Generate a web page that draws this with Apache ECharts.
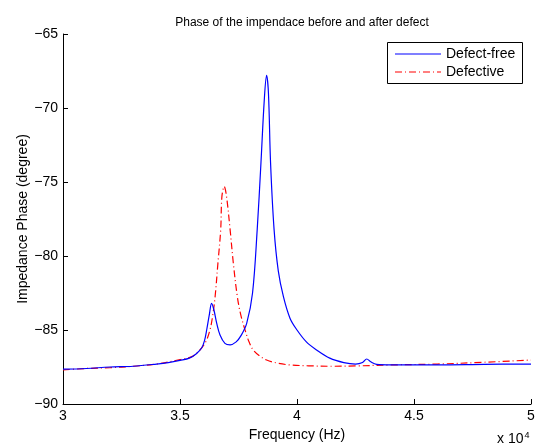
<!DOCTYPE html>
<html><head><meta charset="utf-8">
<script src="https://cdn.jsdelivr.net/npm/echarts@6/dist/echarts.min.js"></script>
<style>html,body{margin:0;padding:0;background:#fff}#c{width:538px;height:447px}</style>
</head><body><div id="c"></div>
<script>
const titleText = 'Phase of the impendace before and after defect';
const seriesNames = ['Defect-free', 'Defective'];
const xTicks = [30000, 35000, 40000, 45000, 50000];
const yTicks = [-90, -85, -80, -75, -70, -65];

// Defect-free: frequency (x10^4 Hz) and phase (degree)
const freqFree = [3.0, 3.1, 3.2, 3.3, 3.4, 3.45, 3.5, 3.54, 3.57, 3.593, 3.605, 3.614, 3.625, 3.635, 3.645, 3.657, 3.671, 3.692, 3.714, 3.74, 3.76, 3.785, 3.81, 3.83, 3.846, 3.86, 3.870, 3.878, 3.887, 3.902, 3.92, 3.942, 3.97, 4.0, 4.04, 4.084, 4.14, 4.2, 4.25, 4.28, 4.298, 4.315, 4.34, 4.4, 4.6, 4.8, 5.0];
const phaseFree = [-87.65, -87.6, -87.5, -87.45, -87.3, -87.2, -87.05, -86.9, -86.6, -86.2, -85.7, -85.0, -84.0, -83.2, -83.65, -84.55, -85.34, -85.9, -86.0, -85.8, -85.4, -84.55, -82.5, -78.2, -73.7, -69.5, -67.8, -69.0, -73.7, -78.2, -81.0, -82.75, -84.2, -85.0, -85.8, -86.35, -86.9, -87.2, -87.3, -87.2, -86.96, -87.15, -87.32, -87.35, -87.35, -87.32, -87.3];

// Defective
const freqDef = [3.0, 3.1, 3.2, 3.3, 3.4, 3.5, 3.55, 3.585, 3.61, 3.628, 3.64, 3.65, 3.662, 3.674, 3.679, 3.689, 3.699, 3.714, 3.728, 3.745, 3.76, 3.778, 3.795, 3.813, 3.84, 3.870, 3.92, 3.970, 4.05, 4.15, 4.25, 4.4, 4.6, 4.8, 5.0];
const phaseDef = [-87.7, -87.6, -87.55, -87.45, -87.3, -87.0, -86.8, -86.35, -85.8, -85.0, -84.0, -82.75, -80.5, -78.2, -76.0, -75.3, -76.0, -78.2, -80.5, -82.75, -84.0, -85.0, -85.8, -86.35, -86.75, -87.03, -87.25, -87.36, -87.42, -87.45, -87.43, -87.36, -87.3, -87.18, -87.03];

const seriesColors = ['#0000ff', '#ff0000'];
const FONT = 'Liberation Sans, Arial, sans-serif';
const toPairs = (xs, ys) => xs.map((x, i) => [x * 1e4, ys[i]]);
const dashDot = [7, 3, 1, 3];

const legendGraphic = [
  {type: 'rect', shape: {x: 387.5, y: 42.5, width: 135, height: 41}, style: {fill: '#fff', stroke: '#000', lineWidth: 1}, z: 10},
  {type: 'line', shape: {x1: 395, y1: 54, x2: 441, y2: 54}, style: {stroke: seriesColors[0], lineWidth: 1.2}, z: 11},
  {type: 'line', shape: {x1: 395, y1: 72, x2: 441, y2: 72}, style: {stroke: seriesColors[1], lineWidth: 1.2, lineDash: dashDot}, z: 11},
  {type: 'text', x: 446, y: 54, style: {text: seriesNames[0], fill: '#000', fontSize: 14, fontFamily: FONT, verticalAlign: 'middle'}, z: 11},
  {type: 'text', x: 446, y: 72, style: {text: seriesNames[1], fill: '#000', fontSize: 14, fontFamily: FONT, verticalAlign: 'middle'}, z: 11}
];

const chart = echarts.init(document.getElementById('c'), null, {renderer: 'canvas'});
chart.setOption({
  backgroundColor: '#fff',
  animation: false,
  title: {
    text: titleText, left: 297, top: 12, textAlign: 'center',
    textStyle: {fontFamily: FONT, fontSize: 12, fontWeight: 'normal', color: '#000'}
  },
  grid: {left: 63, right: 7, top: 34, bottom: 43, containLabel: false},
  xAxis: {
    type: 'value', min: xTicks[0], max: xTicks[xTicks.length - 1], interval: 5000,
    name: 'Frequency (Hz)', nameLocation: 'middle', nameGap: 24,
    nameTextStyle: {fontFamily: FONT, fontSize: 14, color: '#000'},
    axisLine: {onZero: false, lineStyle: {color: '#000', width: 1}},
    axisTick: {inside: true, length: 5, lineStyle: {color: '#000'}},
    axisLabel: {margin: 5, fontFamily: FONT, fontSize: 14, color: '#000', formatter: v => String(v / 1e4)},
    splitLine: {show: false}
  },
  yAxis: {
    type: 'value', min: yTicks[0], max: yTicks[yTicks.length - 1], interval: 5,
    name: 'Impedance Phase (degree)', nameLocation: 'middle', nameGap: 33,
    nameMoveOverlap: false,
    nameTextStyle: {fontFamily: FONT, fontSize: 14, color: '#000'},
    axisLine: {show: true, onZero: false, lineStyle: {color: '#000', width: 1}},
    axisTick: {show: true, inside: true, length: 5, lineStyle: {color: '#000'}},
    axisLabel: {margin: 5, fontFamily: FONT, fontSize: 14, color: '#000', formatter: v => String(v).replace('-', '\u2212')},
    splitLine: {show: false}
  },
  graphic: legendGraphic.concat([{
    type: 'text', left: 497, top: 431,
    style: {
      text: '{a|x 10}{b|4}',
      rich: {
        a: {fontFamily: FONT, fontSize: 14, fill: '#000'},
        b: {fontFamily: FONT, fontSize: 9, fill: '#000', verticalAlign: 'top', padding: [0, 0, 8, 1]}
      }
    }
  }]),
  series: [{
    name: seriesNames[0], type: 'line', symbol: 'none', smooth: 0.35,
    lineStyle: {color: seriesColors[0], width: 1.2}, itemStyle: {color: seriesColors[0]},
    data: toPairs(freqFree, phaseFree), z: 3
  }, {
    name: seriesNames[1], type: 'line', symbol: 'none', smooth: 0.35,
    lineStyle: {color: seriesColors[1], width: 1.2, type: dashDot}, itemStyle: {color: seriesColors[1]},
    data: toPairs(freqDef, phaseDef), z: 2
  }]
});
</script></body></html>
